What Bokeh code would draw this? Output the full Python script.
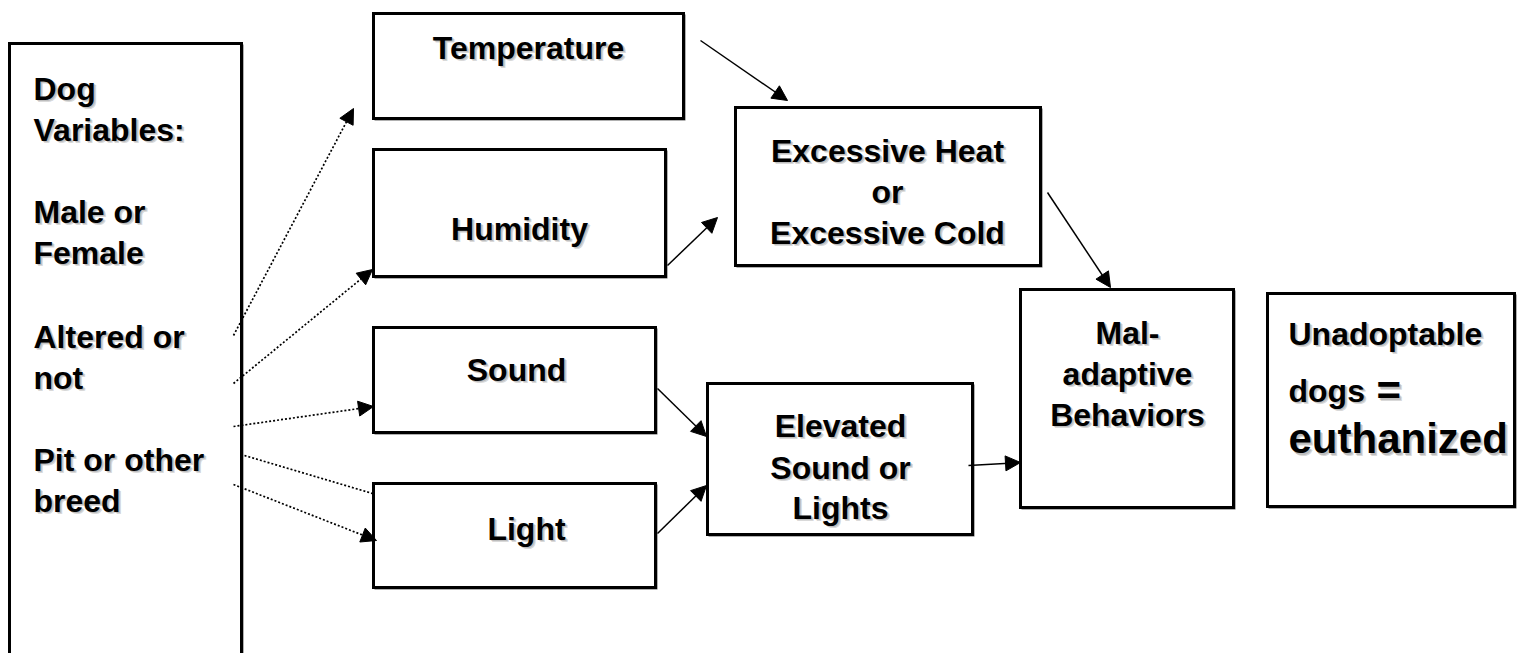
from bokeh.plotting import figure
from bokeh.models import Range1d, Arrow, NormalHead, ColumnDataSource
from bokeh.core.properties import value
from bokeh.embed import file_html
from bokeh.resources import INLINE

# ---- boxes (diagram nodes) ----
box_names = ["dog", "temperature", "humidity", "sound", "light",
             "excessive", "elevated", "maladaptive", "unadoptable"]
box_left = [9, 373, 373, 373, 373, 735, 707, 1020, 1267]
box_right = [241, 683, 665, 655, 655, 1040, 972, 1233, 1514]
box_top = [43, 13, 149, 327, 483, 107, 383, 289, 293]
box_bottom = [720, 118, 276, 432, 587, 265, 534, 507, 506]

# ---- text lines: text, x, baseline y, align ----
label_text = ["Dog", "Variables:", "Male or", "Female", "Altered or", "not",
              "Pit or other", "breed",
              "Temperature", "Humidity", "Sound", "Light",
              "Excessive Heat", "or", "Excessive Cold",
              "Elevated", "Sound or", "Lights",
              "Mal-", "adaptive", "Behaviors",
              "Unadoptable", "dogs"]
label_x = [33, 33, 33, 33, 33, 33, 33, 33,
           528, 519, 516, 526,
           887, 887, 887,
           840, 840, 840,
           1127, 1127, 1127,
           1288, 1288]
label_y = [88, 129, 211, 252, 336, 377, 459, 500,
           47, 228, 369, 528,
           150, 191, 232,
           425, 467, 507,
           332, 373, 414,
           333, 390]
label_align = ["left"] * 8 + ["center"] * 13 + ["left"] * 2

big_text = ["=", "euthanized"]
big_x = [1376, 1288]
big_y = [390, 438]

# ---- arrows: start -> tip, style ----
arrow_x0 = [233, 233, 233, 233, 700, 667, 1047, 657, 657, 968]
arrow_y0 = [335, 383, 426, 484, 40, 265, 192, 388, 533, 465]
arrow_x1 = [353, 372, 373, 376, 787, 717, 1110, 706, 706, 1020]
arrow_y1 = [108, 269, 406, 540, 100, 217, 287, 436, 485, 462]
arrow_dotted = [True, True, True, True, False, False, False, False, False, False]

# plain dotted connector (no head)
line_x0 = [244]
line_y0 = [455]
line_x1 = [372]
line_y1 = [493]

W, H = 1517, 653
p = figure(width=W, height=H, output_backend="svg", toolbar_location=None,
           x_range=Range1d(0, W), y_range=Range1d(H, 0),
           min_border=0, outline_line_color=None)
p.axis.visible = False
p.grid.visible = False
p.background_fill_color = "white"
p.border_fill_color = "white"

# box shadows (subtle) and boxes
p.quad(left=[l + 1.5 for l in box_left], right=[r + 1.5 for r in box_right],
       top=[t + 1.5 for t in box_top], bottom=[b + 1.5 for b in box_bottom],
       fill_color=None, line_color="#b0b0b0", line_width=2)
p.quad(left=box_left, right=box_right, top=box_top, bottom=box_bottom,
       fill_color="white", line_color="black", line_width=3, line_join="miter")

# arrows
for x0, y0, x1, y1, dotted in zip(arrow_x0, arrow_y0, arrow_x1, arrow_y1, arrow_dotted):
    head = NormalHead(size=15, fill_color="black", line_color="black", line_width=1)
    p.add_layout(Arrow(end=head, x_start=x0, y_start=y0, x_end=x1, y_end=y1,
                       line_color="black", line_width=1.7 if dotted else 1.5,
                       line_dash="2 2" if dotted else "solid"))
p.segment(x0=line_x0, y0=line_y0, x1=line_x1, y1=line_y1,
          line_color="black", line_width=1.7, line_dash="2 2")

font = value("Liberation Sans")
src = ColumnDataSource(dict(text=label_text, x=label_x, y=label_y, align=label_align))
big = ColumnDataSource(dict(text=big_text, x=big_x, y=big_y))

for off, col, alpha in [((2.5, 2.5), "#7a7a7a", 0.3), ((1.5, 1.5), "#909090", 0.4), ((0, 0), "black", 1.0)]:
    p.text(x="x", y="y", text="text", source=src, text_align="align",
           text_baseline="alphabetic", text_font=font, text_font_style="bold",
           text_font_size="32px", text_color=col, text_alpha=alpha,
           x_offset=off[0], y_offset=off[1])
    p.text(x="x", y="y", text="text", source=big, text_align="left",
           text_baseline="alphabetic", text_font=font, text_font_style="bold",
           text_font_size="42px", text_color=col, text_alpha=alpha,
           x_offset=off[0], y_offset=off[1])

open("out.html", "w").write(file_html(p, INLINE))
